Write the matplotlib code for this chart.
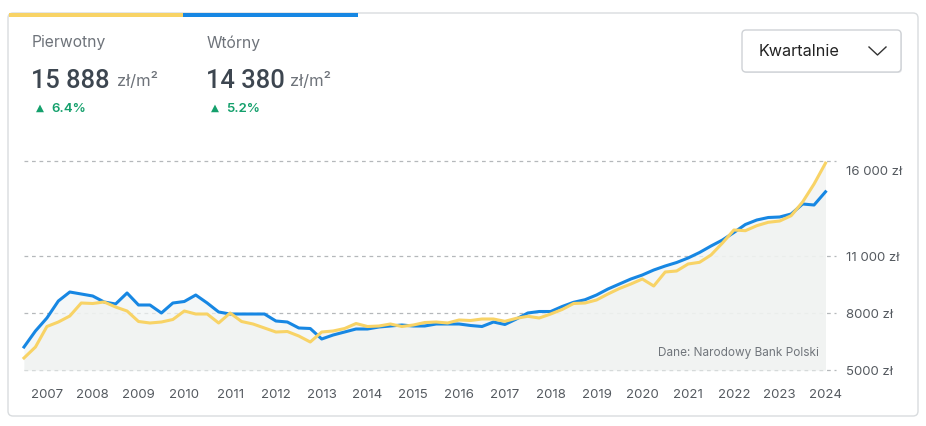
import matplotlib
matplotlib.use("Agg")
import matplotlib.pyplot as plt
from matplotlib.patches import FancyBboxPatch, Rectangle
from matplotlib.transforms import IdentityTransform, ScaledTranslation
import numpy as np

plt.rcParams['font.family'] = ['Inter', 'DejaVu Sans']

# ---- data (quarterly, 2006 Q3 .. 2024 Q1) ----
wtorny = [6210, 7053, 7737, 8632, 9105, 9000, 8895, 8579, 8474, 9053,
          8421, 8421, 8000, 8526, 8605, 8947, 8526, 8053, 7947, 7947,
          7947, 7947, 7579, 7526, 7211, 7184, 6632, 6842, 7000, 7158,
          7158, 7263, 7316, 7368, 7316, 7316, 7421, 7421, 7421, 7342,
          7289, 7526, 7395, 7684, 8000, 8079, 8079, 8342, 8563, 8700,
          8947, 9263, 9526, 9789, 10000, 10263, 10474, 10658, 10895, 11184,
          11526, 11842, 12237, 12658, 12895, 13026, 13053, 13211, 13737, 13684,
          14380]
pierwotny = [5632, 6210, 7289, 7526, 7842, 8526, 8500, 8579, 8316, 8105,
             7553, 7474, 7526, 7658, 8105, 7947, 7947, 7474, 8000, 7553,
             7421, 7211, 7000, 7026, 6789, 6474, 7000, 7053, 7184, 7447,
             7289, 7316, 7421, 7289, 7368, 7500, 7526, 7474, 7632, 7605,
             7684, 7684, 7563, 7721, 7826, 7737, 7947, 8184, 8500, 8526,
             8684, 9000, 9289, 9526, 9789, 9421, 10158, 10211, 10579, 10668,
             11053, 11684, 12368, 12332, 12595, 12774, 12842, 13121, 13842, 14789,
             15888]
years = list(range(2007, 2025))
year_pos = [2 + 4 * i for i in range(len(years))]
y_ticks = [5000, 8000, 11000, 16000]
y_tick_labels = ["5000 zł", "8000 zł", "11 000 zł", "16 000 zł"]

W, H = 926, 427
fig = plt.figure(figsize=(W / 100, H / 100), dpi=100)
fig.patch.set_facecolor('white')

def fx(x):
    return x / W

def fy(y):
    return 1 - y / H

YEL = '#f8d366'
BLU = '#1787e3'

# card
card = FancyBboxPatch((8, H - 417), 910, 403, boxstyle="round,pad=0,rounding_size=5",
                      transform=IdentityTransform(), facecolor='white',
                      edgecolor='#d9dcdf', linewidth=1.0, zorder=-3)
fig.patches.append(card)
fig.patches.append(Rectangle((9, H - 18), 174, 4, transform=IdentityTransform(),
                             facecolor=YEL, edgecolor='none', zorder=-2))
fig.patches.append(Rectangle((183, H - 18), 175, 4, transform=IdentityTransform(),
                             facecolor=BLU, edgecolor='none', zorder=-2))

# header texts
gray = '#6e737a'
dark = '#3d4650'
green = '#14a06c'
fig.text(fx(32), fy(43), "Pierwotny", fontsize=11.3, color=gray, va='center', ha='left')
fig.text(fx(207), fy(43), "Wtórny", fontsize=11.3, color=gray, va='center', ha='left')
fig.text(fx(31), fy(81), "15 888", fontsize=18.4, color=dark, va='center', ha='left',
         fontweight='medium', family=['Roboto', 'DejaVu Sans'])
fig.text(fx(117), fy(81), "zł/m²", fontsize=12, color=gray, va='center', ha='left')
fig.text(fx(206), fy(81), "14 380", fontsize=18.4, color=dark, va='center', ha='left',
         fontweight='medium', family=['Roboto', 'DejaVu Sans'])
fig.text(fx(290), fy(81), "zł/m²", fontsize=12, color=gray, va='center', ha='left')
fig.text(fx(36), fy(108), "▲", fontsize=7.5, color=green, va='center', ha='left', family=['DejaVu Sans'])
fig.text(fx(51), fy(109), "6.4%", fontsize=9.5, color=green, va='center', ha='left', fontweight='semibold')
fig.text(fx(211), fy(108), "▲", fontsize=7.5, color=green, va='center', ha='left', family=['DejaVu Sans'])
fig.text(fx(226), fy(109), "5.2%", fontsize=9.5, color=green, va='center', ha='left', fontweight='semibold')

# dropdown
shadow = FancyBboxPatch((743, H - 74), 159, 42, boxstyle="round,pad=0,rounding_size=4",
                        transform=IdentityTransform(), facecolor='#e6e8ea',
                        edgecolor='none', zorder=1)
fig.patches.append(shadow)
dd = FancyBboxPatch((742, H - 73), 159, 42, boxstyle="round,pad=0,rounding_size=4",
                    transform=IdentityTransform(), facecolor='white',
                    edgecolor='#cfd2d6', linewidth=1.0, zorder=2)
fig.patches.append(dd)
fig.text(fx(759), fy(52), "Kwartalnie", fontsize=11.7, color='#222222', va='center', ha='left', zorder=3)
fig.lines.append(plt.Line2D([869 / W, 877.5 / W, 886 / W], [fy(48), fy(56), fy(48)],
                            transform=fig.transFigure, color='#333333', linewidth=1.0, zorder=3))

# chart axes: x from 24 px (t=0) ; 11.45 px per quarter
px_per_q = 11.45
left_px, right_px = 24, 836
bottom_px, top_px = 371, 162
ax = fig.add_axes([fx(left_px), fy(bottom_px), (right_px - left_px) / W, (bottom_px - top_px) / H])
ax.set_xlim(0, (right_px - left_px) / px_per_q)
ax.set_ylim(5000, 16000)
ax.patch.set_alpha(0)
for s in ax.spines.values():
    s.set_visible(False)

t = np.arange(len(wtorny))
for v in y_ticks:
    ax.axhline(v, color='#b5b8bb', linewidth=0.9, linestyle=(0, (3, 3)), zorder=1, clip_on=False)

ax.fill_between(t, 5000, wtorny, color='#f0f4f4', alpha=0.7, linewidth=0, zorder=2)
ax.fill_between(t, 5000, pierwotny, color='#f0f2f0', alpha=0.7, linewidth=0, zorder=2)
ax.plot(t, wtorny, color=BLU, linewidth=2.2, zorder=4, clip_on=False, solid_joinstyle='round')
ax.plot(t, pierwotny, color=YEL, linewidth=2.2, zorder=5, clip_on=False, solid_joinstyle='round')

ax.set_xticks(year_pos)
ax.set_xticklabels([str(y) for y in years])
ax.tick_params(axis='x', length=0, pad=13, labelsize=9.5, labelcolor='#555a60')
ax.yaxis.tick_right()
ax.set_yticks(y_ticks)
ax.set_yticklabels(y_tick_labels)
ax.tick_params(axis='y', length=0, pad=7, labelsize=9.5, labelcolor='#555a60')
# top label sits a little below its gridline in the reference
top_lbl = ax.yaxis.get_major_ticks()[-1].label2
top_lbl.set_transform(top_lbl.get_transform() + ScaledTranslation(0, -9 / 100, fig.dpi_scale_trans))

ax.text(70 - 0.6, 5000 + (371 - 353) / 0.019, "Dane: Narodowy Bank Polski", fontsize=8.5,
        color='#70757b', ha='right', va='center', zorder=6)

fig.savefig("out.png", dpi=100, facecolor='white')
